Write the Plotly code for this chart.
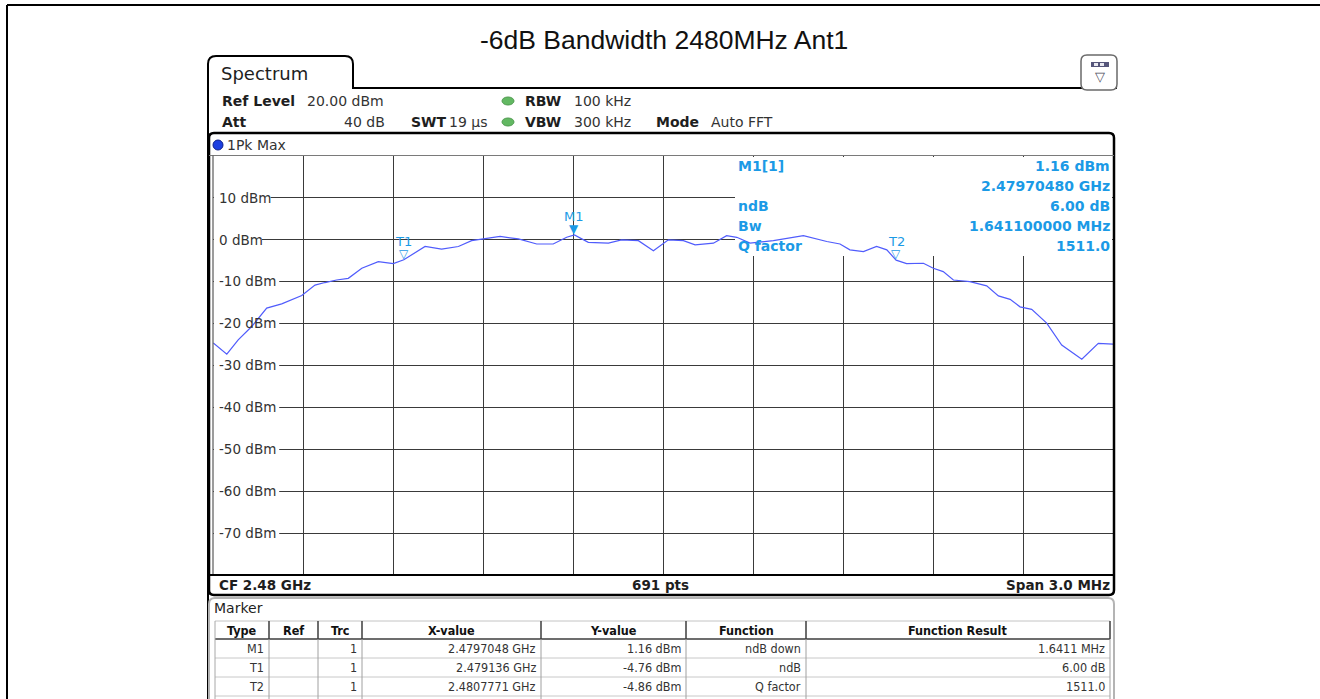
import plotly.graph_objects as go

W, H = 1320, 699

# ---------------- data ----------------
title_text = "-6dB Bandwidth 2480MHz Ant1"

freq_mhz = [2478.501, 2478.546, 2478.584, 2478.629, 2478.679, 2478.729, 2478.796, 2478.840,
            2478.873, 2478.912, 2478.951, 2478.996, 2479.051, 2479.101, 2479.136, 2479.173,
            2479.207, 2479.262, 2479.318, 2479.362, 2479.407, 2479.457, 2479.518, 2479.579,
            2479.634, 2479.679, 2479.7048, 2479.751, 2479.818, 2479.862, 2479.918, 2479.968,
            2480.018, 2480.068, 2480.107, 2480.168, 2480.212, 2480.246, 2480.290, 2480.368,
            2480.468, 2480.546, 2480.590, 2480.623, 2480.668, 2480.712, 2480.746, 2480.7771,
            2480.812, 2480.868, 2480.901, 2480.934, 2480.968, 2481.023, 2481.079, 2481.118,
            2481.157, 2481.190, 2481.229, 2481.279, 2481.329, 2481.396, 2481.451, 2481.500]
level_dbm = [-24.6, -27.3, -23.9, -20.7, -16.3, -15.3, -13.3, -10.8,
             -10.2, -9.6, -9.2, -6.8, -5.2, -5.7, -4.76, -3.2,
             -1.6, -2.2, -1.6, -0.2, 0.2, 0.8, 0.2, -1.0,
             -1.0, 0.6, 1.16, -0.6, -0.8, 0.0, -0.2, -2.6,
             0.0, -0.2, -1.2, -0.8, 1.0, 0.6, -0.8, -0.2,
             1.0, -0.4, -1.0, -2.4, -2.8, -1.6, -2.4, -4.86,
             -5.7, -5.6, -6.8, -7.6, -9.6, -10.0, -11.0, -13.4,
             -14.2, -16.0, -16.6, -19.9, -25.1, -28.5, -24.7, -24.9]

x_range = [2478.5, 2481.5]
x_grid = [2478.8, 2479.1, 2479.4, 2479.7, 2480.0, 2480.3, 2480.6, 2480.9, 2481.2]
y_range = [-80, 20]
y_ticks = [10, 0, -10, -20, -30, -40, -50, -60, -70]
y_ticktext = ["10 dBm", "0 dBm", "-10 dBm", "-20 dBm", "-30 dBm", "-40 dBm", "-50 dBm", "-60 dBm", "-70 dBm"]

marker_names = ["M1", "T1", "T2"]
marker_freq = [2479.7048, 2479.136, 2480.7771]
marker_level = [1.16, -4.76, -4.86]
marker_glyph = ["▼", "▽", "▽"]

info_labels = ["M1[1]", "", "ndB", "Bw", "Q factor"]
info_values = ["1.16 dBm", "2.47970480 GHz", "6.00 dB", "1.641100000 MHz", "1511.0"]

table_header = ["Type", "Ref", "Trc", "X-value", "Y-value", "Function", "Function Result"]
tbl_type = ["M1", "T1", "T2"]
tbl_ref = ["", "", ""]
tbl_trc = ["1", "1", "1"]
tbl_x = ["2.4797048 GHz", "2.479136 GHz", "2.4807771 GHz"]
tbl_y = ["1.16 dBm", "-4.76 dBm", "-4.86 dBm"]
tbl_func = ["ndB down", "ndB", "Q factor"]
tbl_result = ["1.6411 MHz", "6.00 dB", "1511.0"]

# ---------------- geometry helpers ----------------
PL, PR, PT, PB = 213, 1113, 156, 575   # plot area in pixels


def px(x):
    return x / W


def py(y):
    return 1 - y / H


def fx(x):  # pixel -> data x
    return x_range[0] + (x - PL) / (PR - PL) * (x_range[1] - x_range[0])


def fy(y):  # pixel -> data y
    return y_range[1] - (y - PT) / (PB - PT) * (y_range[1] - y_range[0])


def gy(v):  # data y -> pixel
    return PT + (y_range[1] - v) / (y_range[1] - y_range[0]) * (PB - PT)


def path(points, close=False):
    s = ""
    for i, p in enumerate(points):
        if p[0] == "Q":
            s += f" Q {px(p[1])},{py(p[2])} {px(p[3])},{py(p[4])}"
        else:
            s += (" M " if i == 0 else " L ") + f"{px(p[0])},{py(p[1])}"
    if close:
        s += " Z"
    return s.strip()


BLUE = "#1b9ae6"
TXT = "#1e1e1e"
GRID = "#3a3a3a"
SANS = "DejaVu Sans"
COND = "DejaVu Sans Condensed"

annotations = []
shapes = []


def txt(x, y, s, size=14, bold=False, color=TXT, anchor="left", family=SANS):
    annotations.append(dict(
        x=px(x), y=py(y), xref="paper", yref="paper",
        text=f"<b>{s}</b>" if bold else s, showarrow=False,
        xanchor=anchor, yanchor="middle",
        font=dict(family=family, size=size, color=color), borderpad=0))


def line(x0, y0, x1, y1, color="black", width=2):
    shapes.append(dict(type="line", xref="paper", yref="paper",
                       x0=px(x0), y0=py(y0), x1=px(x1), y1=py(y1),
                       line=dict(color=color, width=width), layer="above"))


def rect(x0, y0, x1, y1, fill="white"):
    shapes.append(dict(type="rect", xref="paper", yref="paper",
                       x0=px(x0), y0=py(y0), x1=px(x1), y1=py(y1),
                       fillcolor=fill, line=dict(width=0), layer="above"))


def mask(x0, y0, x1, y1):
    # white mask above the grid but below the trace (data-referenced)
    shapes.append(dict(type="rect", xref="x", yref="y",
                       x0=fx(x0), y0=fy(y1), x1=fx(x1), y1=fy(y0),
                       fillcolor="white", line=dict(width=0), layer="between"))


def circle(cx, cy, rx, ry, fill, lcolor):
    shapes.append(dict(type="circle", xref="paper", yref="paper",
                       x0=px(cx - rx), y0=py(cy - ry), x1=px(cx + rx), y1=py(cy + ry),
                       fillcolor=fill, line=dict(color=lcolor, width=1), layer="above"))


# ---------------- figure ----------------
fig = go.Figure()

fig.add_trace(go.Scatter(x=freq_mhz, y=level_dbm, mode="lines",
                         line=dict(color="rgb(80,92,252)", width=1.2),
                         hoverinfo="skip", showlegend=False))

# outer frame
line(7, 5, 1320, 5, width=2)
line(7, 5, 7, 699, width=2)

# spectrum tab + header line
shapes.append(dict(type="path", xref="paper", yref="paper",
                   path=path([(208, 699), (208, 64), ("Q", 208, 56, 216, 56), (345, 56),
                              ("Q", 353, 56, 353, 64), (353, 88), (1117, 88)]),
                   line=dict(color="black", width=2), layer="above"))

# icon top right
shapes.append(dict(type="path", xref="paper", yref="paper",
                   path=path([(1081, 61), ("Q", 1081, 55, 1087, 55), (1111, 55),
                              ("Q", 1117, 55, 1117, 61), (1117, 84), ("Q", 1117, 90, 1111, 90),
                              (1087, 90), ("Q", 1081, 90, 1081, 84)], close=True),
                   fillcolor="white", line=dict(color="#6a6a6a", width=1.5), layer="above"))
rect(1091, 62, 1109, 67, fill="#55557a")
rect(1094, 63, 1098, 66, fill="#e8e8f0")
rect(1100, 63, 1104, 66, fill="#e8e8f0")
txt(1100, 77, "▽", size=13, color="#4a4a5a", anchor="center")

# masks: marker info box, y tick label backgrounds
mask(735, PT + 1, PR - 1, 256)
for v, t in zip(y_ticks, y_ticktext):
    yy = gy(v)
    mask(PL + 1, yy - 7, PL + 6 + len(t) * 8.6, yy + 7)

# diagram panel
shapes.append(dict(type="path", xref="paper", yref="paper",
                   path=path([(209, 138), ("Q", 209, 133, 214, 133), (1109, 133),
                              ("Q", 1114, 133, 1114, 138), (1114, 590), ("Q", 1114, 595, 1109, 595),
                              (214, 595), ("Q", 209, 595, 209, 590)], close=True),
                   line=dict(color="black", width=2.5), layer="above"))
line(209, 155.5, 1114, 155.5, color="#7a7a7a", width=1)
line(PL, 155.5, PL, PB, color="#5a5a5a", width=1.2)
line(209, PB, 1114, PB, color="black", width=2)

# marker panel
shapes.append(dict(type="path", xref="paper", yref="paper",
                   path=path([(209, 699), (209, 604), ("Q", 209, 598, 215, 598), (1108, 598),
                              ("Q", 1114, 598, 1114, 604), (1114, 699)]),
                   line=dict(color="#b4b4b4", width=2), layer="above"))

# marker table (lines + texts)
col_x = [215, 269, 318, 362, 541, 686, 806, 1110]
row_y = [621, 639, 658, 677, 696]
line(col_x[0], row_y[0], col_x[-1], row_y[0], color="#c4c4c4", width=1)
for yy in row_y[2:]:
    line(col_x[0], yy, col_x[-1], yy, color="#c8c8c8", width=1)
line(col_x[0], row_y[1], col_x[-1], row_y[1], color="#3c3c3c", width=1.5)
line(col_x[0], row_y[0], col_x[0], 699, color="#a8a8a8", width=1)
for xx in col_x[1:]:
    line(xx, row_y[0], xx, row_y[1], color="#3c3c3c", width=1.5)
    line(xx, row_y[1], xx, 699, color="#a0a0a0", width=1)
for i, h in enumerate(table_header):
    txt((col_x[i] + col_x[i + 1]) / 2, (row_y[0] + row_y[1]) / 2 + 0.5, h, size=12.5,
        bold=True, color="#111", anchor="center", family=COND)
columns = [tbl_type, tbl_ref, tbl_trc, tbl_x, tbl_y, tbl_func, tbl_result]
for c, vals in enumerate(columns):
    for r, v in enumerate(vals):
        if v:
            txt(col_x[c + 1] - 4, (row_y[r + 1] + row_y[r + 2]) / 2, v, size=12.5,
                color="#333", anchor="right", family=COND)

# dots
circle(508, 101, 6, 4, "#62b862", "#4f9a4f")
circle(508, 122, 6, 4, "#62b862", "#4f9a4f")
circle(218, 145, 5, 5, "#1d3fe0", "#10208a")

# texts
txt(664, 40, title_text, size=26.5, family="Liberation Sans", color="#111", anchor="center")
txt(220, 73, "Spectrum", size=18)
txt(221, 101, "Ref Level", bold=True)
txt(306, 101, "20.00 dBm", color="#333")
txt(221, 122, "Att", bold=True)
txt(386, 122, "40 dB", color="#333", anchor="right")
txt(410, 122, "SWT", bold=True)
txt(448, 122, "19 µs", color="#333")
txt(524, 101, "RBW", bold=True)
txt(573, 101, "100 kHz", color="#333")
txt(524, 122, "VBW", bold=True)
txt(573, 122, "300 kHz", color="#333")
txt(655, 122, "Mode", bold=True)
txt(710, 122, "Auto FFT", color="#333")
txt(226, 145, "1Pk Max", color="#333")

txt(218, 585, "CF 2.48 GHz", size=13.5, bold=True)
txt(660, 585, "691 pts", size=13.5, bold=True, anchor="center")
txt(1111, 585, "Span 3.0 MHz", size=13.5, bold=True, anchor="right")
txt(213, 608, "Marker", size=14)

info_rows_y = [166, 186, 206, 226, 246]
for lab, val, yy in zip(info_labels, info_values, info_rows_y):
    if lab:
        txt(737, yy, lab, bold=True, color=BLUE)
    txt(1111, yy, val, bold=True, color=BLUE, anchor="right")

# marker symbols on trace
for n, f, l, g in zip(marker_names, marker_freq, marker_level, marker_glyph):
    annotations.append(dict(x=f, y=l, xref="x", yref="y", text=g, showarrow=False,
                            yanchor="bottom", xanchor="center", yshift=-3,
                            font=dict(family=SANS, size=12, color=BLUE)))
    annotations.append(dict(x=f, y=l, xref="x", yref="y", text=n, showarrow=False,
                            yanchor="bottom", xanchor="center", yshift=9,
                            font=dict(family=SANS, size=13, color=BLUE)))

fig.update_layout(
    width=W, height=H, margin=dict(l=0, r=0, t=0, b=0),
    paper_bgcolor="white", plot_bgcolor="white", showlegend=False,
    xaxis=dict(domain=[px(PL), px(PR)], range=x_range, tickvals=x_grid,
               showticklabels=False, ticks="", showgrid=True, gridcolor=GRID, gridwidth=1.3,
               zeroline=False, showline=False, fixedrange=True),
    yaxis=dict(domain=[py(PB), py(PT)], range=y_range, tickvals=y_ticks, ticktext=y_ticktext,
               ticklabelposition="inside", ticks="", ticklabelstandoff=3,
               tickfont=dict(family=SANS, size=13.5, color="#333"),
               showgrid=True, gridcolor=GRID, gridwidth=1.3,
               zeroline=False, showline=False, fixedrange=True),
    shapes=shapes, annotations=annotations,
)

fig.write_html("out.html", config={"displayModeBar": False},
               post_script="document.body.style.margin='0px';")
